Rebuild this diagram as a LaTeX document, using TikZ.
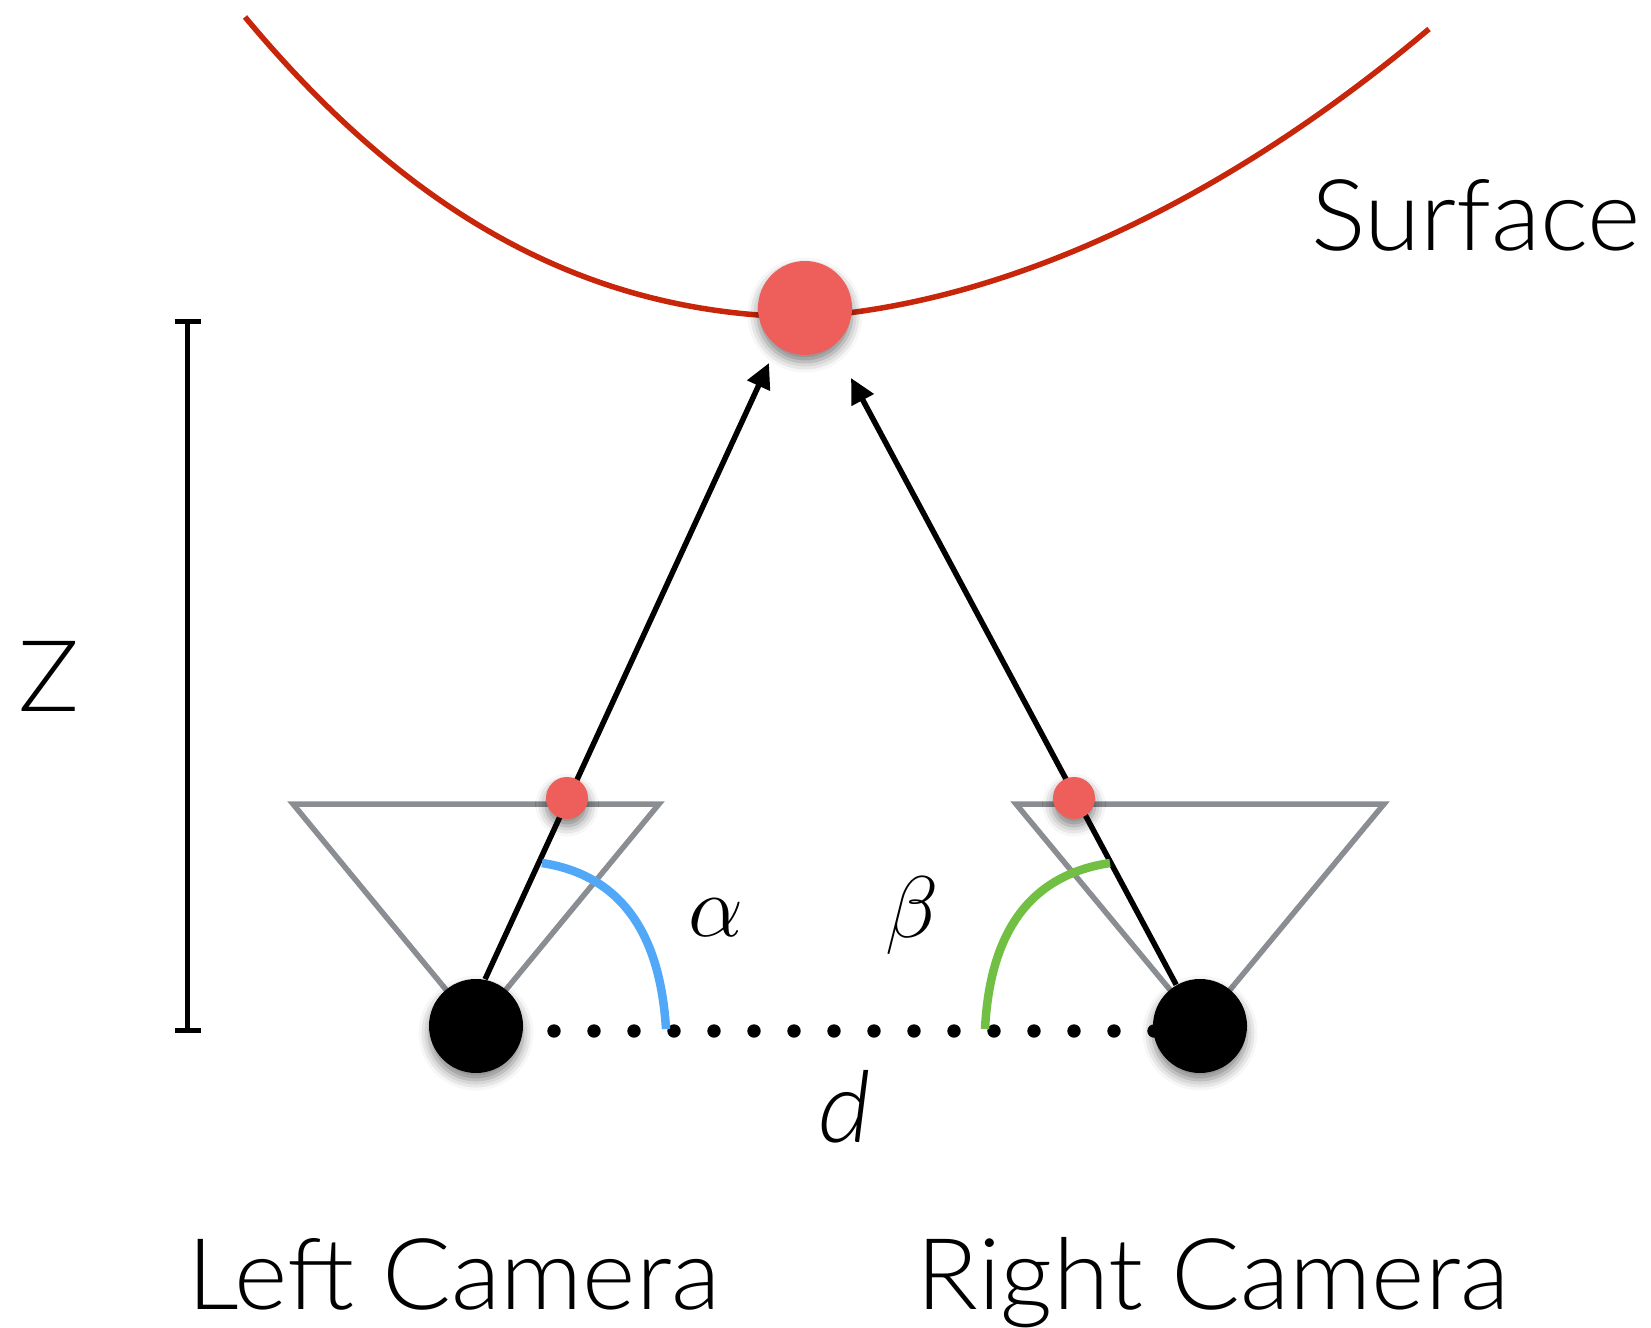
\documentclass[tikz,border=0pt]{standalone}
\usepackage{amsmath,amssymb}
\usepackage{fontspec}
\setmainfont[FakeStretch=1.03]{Lato Light}
\usetikzlibrary{arrows.meta,shadows.blur}
\definecolor{surfacered}{HTML}{C8260A}
\definecolor{pointred}{HTML}{EE5F5B}
\definecolor{framegray}{HTML}{8A8D91}
\definecolor{alphablue}{HTML}{52A8F8}
\definecolor{betagreen}{HTML}{72C043}

\begin{document}
\begin{tikzpicture}[x=1cm,y=1cm]
\tikzset{
  softshadow/.style={blur shadow={shadow xshift=0pt,shadow yshift=-2pt,shadow blur radius=3pt,shadow opacity=50}},
  camnode/.style={circle,fill=black,minimum size=0.94cm,inner sep=0pt,softshadow},
  bigpoint/.style={circle,fill=pointred,minimum size=0.94cm,inner sep=0pt,softshadow},
  smallpoint/.style={circle,fill=pointred,minimum size=0.42cm,inner sep=0pt,softshadow},
  caption/.style={font=\fontsize{28.2}{30}\selectfont,inner sep=0pt,anchor=base},
  mathlabel/.style={font=\fontsize{33}{34}\selectfont,inner sep=0pt},
  frustum/.style={draw=framegray,line width=0.055cm},
  ray/.style={-{Triangle[length=0.25cm,width=0.24cm]},line width=0.055cm},
  anglearc/.style={line width=0.085cm},
  baseline/.style={line width=0.134cm,line cap=round,dash pattern=on 0pt off 0.4cm},
  depthbar/.style={line width=0.055cm,{Bar[width=0.26cm,line width=0.05cm]}-{Bar[width=0.26cm,line width=0.05cm]}}
}
\useasboundingbox (0,0) rectangle (16.51,13.27);
% frame corners and free ends
\coordinate (c_ltl) at (2.93,5.23);
\coordinate (c_ltr) at (6.59,5.23);
\coordinate (c_rtl) at (10.16,5.23);
\coordinate (c_rtr) at (13.84,5.23);
\coordinate (c_cam1) at (4.76,3.01);
\coordinate (c_cam2) at (12.00,3.01);
\coordinate (c_tipl) at (7.69,9.64);
\coordinate (c_tipr) at (8.51,9.49);
\coordinate (c_dot1) at (5.54,2.96);
\coordinate (c_dot2) at (11.56,2.96);
\coordinate (c_zt) at (1.875,10.08);
\coordinate (c_zb) at (1.875,2.94);
\coordinate (c_surfl) at (2.45,13.10);
\coordinate (c_surfm) at (8.05,10.10);
\coordinate (c_surfr) at (14.29,12.98);
\coordinate (c_al1) at (5.42,4.64);
\coordinate (c_al2) at (6.66,2.98);
\coordinate (c_be1) at (11.10,4.64);
\coordinate (c_be2) at (9.85,2.98);
% surface
\draw[surfacered,line width=0.055cm] (c_surfl) .. controls (4.20,11.00) and (6.00,10.12) .. (c_surfm) .. controls (10.00,10.22) and (12.20,11.22) .. (c_surfr);
\draw[depthbar] (c_zt) -- (c_zb);
% camera frames
\draw[frustum] (c_ltl) -- (c_ltr) -- (c_cam1) -- cycle;
\draw[frustum] (c_rtl) -- (c_rtr) -- (c_cam2) -- cycle;
\draw[baseline] (c_dot1) -- (c_dot2);
\node[camnode] (n_left) at (c_cam1) {};
\node[camnode] (n_right) at (c_cam2) {};
\node[bigpoint] (n_point) at (8.05,10.19) {};
\draw[ray] (n_left.79) -- (c_tipl);
\draw[ray] (n_right.120) -- (c_tipr);
\node[smallpoint] (n_pl) at (5.67,5.29) {};
\node[smallpoint] (n_pr) at (10.74,5.29) {};
\draw[anglearc,alphablue] (c_al1) .. controls (6.20,4.52) and (6.60,3.95) .. (c_al2);
\draw[anglearc,betagreen] (c_be1) .. controls (10.30,4.52) and (9.90,3.95) .. (c_be2);
% labels
\node[mathlabel] (n_alpha) at (7.16,4.09) {$\alpha$};
\node[mathlabel] (n_beta) at (9.12,4.11) {$\beta$};
\node[caption] (n_d) at (8.45,1.85) {\itshape d};
\node[caption] (n_z) at (0.485,6.16) {Z};
\node[caption] (n_surface) at (14.76,10.76) {Surface};
\node[caption] (n_lcap) at (4.54,0.18) {Left Camera};
\node[caption] (n_rcap) at (12.13,0.18) {Right Camera};
\end{tikzpicture}
\end{document}
